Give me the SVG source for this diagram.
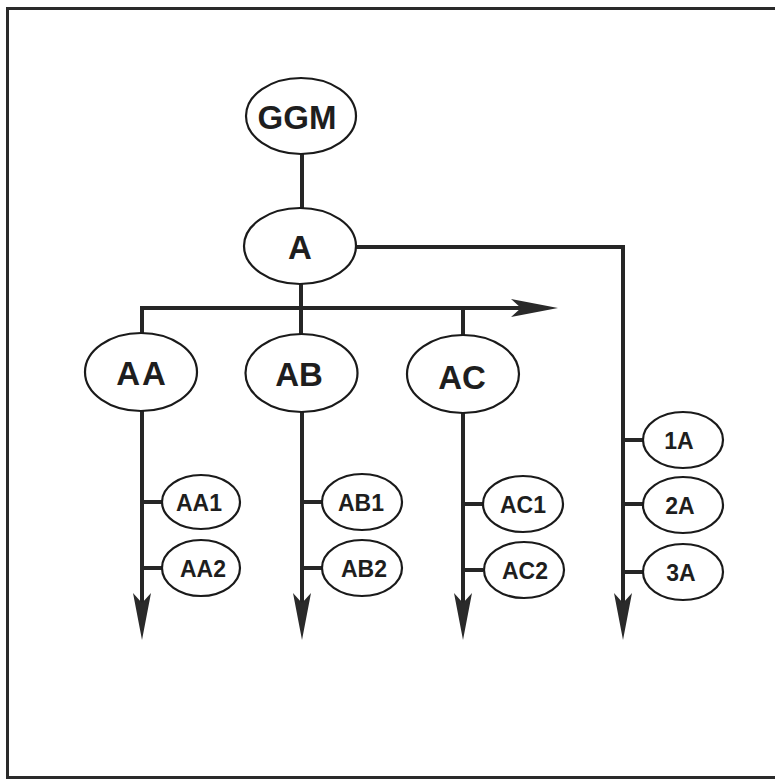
<svg xmlns="http://www.w3.org/2000/svg" width="775" height="782" viewBox="0 0 775 782">
<style>
.node ellipse{fill:#fff;stroke:#1a1a1a;stroke-width:2.2}
.node text{font-family:"Liberation Sans",Arial,sans-serif;font-weight:bold;fill:#1e1e1e;text-anchor:middle;dominant-baseline:central}
.big text{font-size:33px}
.small text{font-size:23px}
.conn{fill:none;stroke:#262626;stroke-width:4}
</style>
<defs>
<marker id="arr" markerUnits="userSpaceOnUse" viewBox="-12 -10 50 20" markerWidth="50" markerHeight="20" refX="0" refY="0" orient="auto">
<path d="M37,0 L-10,-9 L0,0 L-10,9 Z" fill="#2a2a2a"/>
</marker>
</defs>
<rect x="0" y="0" width="775" height="782" fill="#fff"/>
<path d="M775,8.5 H7.5 V777.5 H775" fill="none" stroke="#2a2a2a" stroke-width="3"/>
<g id="connectors">
<path class="conn" d="M302,154 V208"/>
<path class="conn" d="M356,247 H623 V603" marker-end="url(#arr)"/>
<path class="conn" d="M301,284 V334"/>
<path class="conn" d="M142,334 V308 H521" marker-end="url(#arr)"/>
<path class="conn" d="M463,308 V336"/>
<path class="conn" d="M142,411 V603" marker-end="url(#arr)"/>
<path class="conn" d="M302,412 V603" marker-end="url(#arr)"/>
<path class="conn" d="M463,413 V603" marker-end="url(#arr)"/>
<path class="conn" d="M142,502 H162 M142,568 H162"/>
<path class="conn" d="M302,502 H322 M302,568 H322"/>
<path class="conn" d="M463,504 H483 M463,570 H483"/>
<path class="conn" d="M623,440 H643 M623,504 H643 M623,572 H643"/>
</g>
<g id="GGM" class="node big"><ellipse cx="301" cy="116" rx="55" ry="38"/><text x="297" y="117">GGM</text></g>
<g id="A" class="node big"><ellipse cx="300" cy="246" rx="56" ry="38"/><text x="300" y="247">A</text></g>
<g id="AA" class="node big"><ellipse cx="141" cy="372" rx="56" ry="39"/><text x="142" y="373" letter-spacing="2">AA</text></g>
<g id="AB" class="node big"><ellipse cx="301.5" cy="373" rx="56" ry="39"/><text x="299" y="374">AB</text></g>
<g id="AC" class="node big"><ellipse cx="463" cy="374" rx="56" ry="39"/><text x="462" y="377">AC</text></g>
<g id="AA1" class="node small"><ellipse cx="201" cy="502" rx="39" ry="27"/><text x="199" y="503">AA1</text></g>
<g id="AA2" class="node small"><ellipse cx="201" cy="568" rx="39" ry="28"/><text x="203" y="569">AA2</text></g>
<g id="AB1" class="node small"><ellipse cx="362" cy="502" rx="40" ry="28"/><text x="361" y="503">AB1</text></g>
<g id="AB2" class="node small"><ellipse cx="362" cy="568" rx="40" ry="28"/><text x="364" y="569">AB2</text></g>
<g id="AC1" class="node small"><ellipse cx="523" cy="504" rx="40" ry="28"/><text x="523" y="505">AC1</text></g>
<g id="AC2" class="node small"><ellipse cx="524" cy="570" rx="40" ry="28"/><text x="525" y="571">AC2</text></g>
<g id="n1A" class="node small"><ellipse cx="683" cy="440" rx="40" ry="28"/><text x="679" y="441">1A</text></g>
<g id="n2A" class="node small"><ellipse cx="683" cy="505" rx="40" ry="28"/><text x="680" y="506">2A</text></g>
<g id="n3A" class="node small"><ellipse cx="683" cy="572" rx="40" ry="28"/><text x="681" y="573">3A</text></g>
</svg>
